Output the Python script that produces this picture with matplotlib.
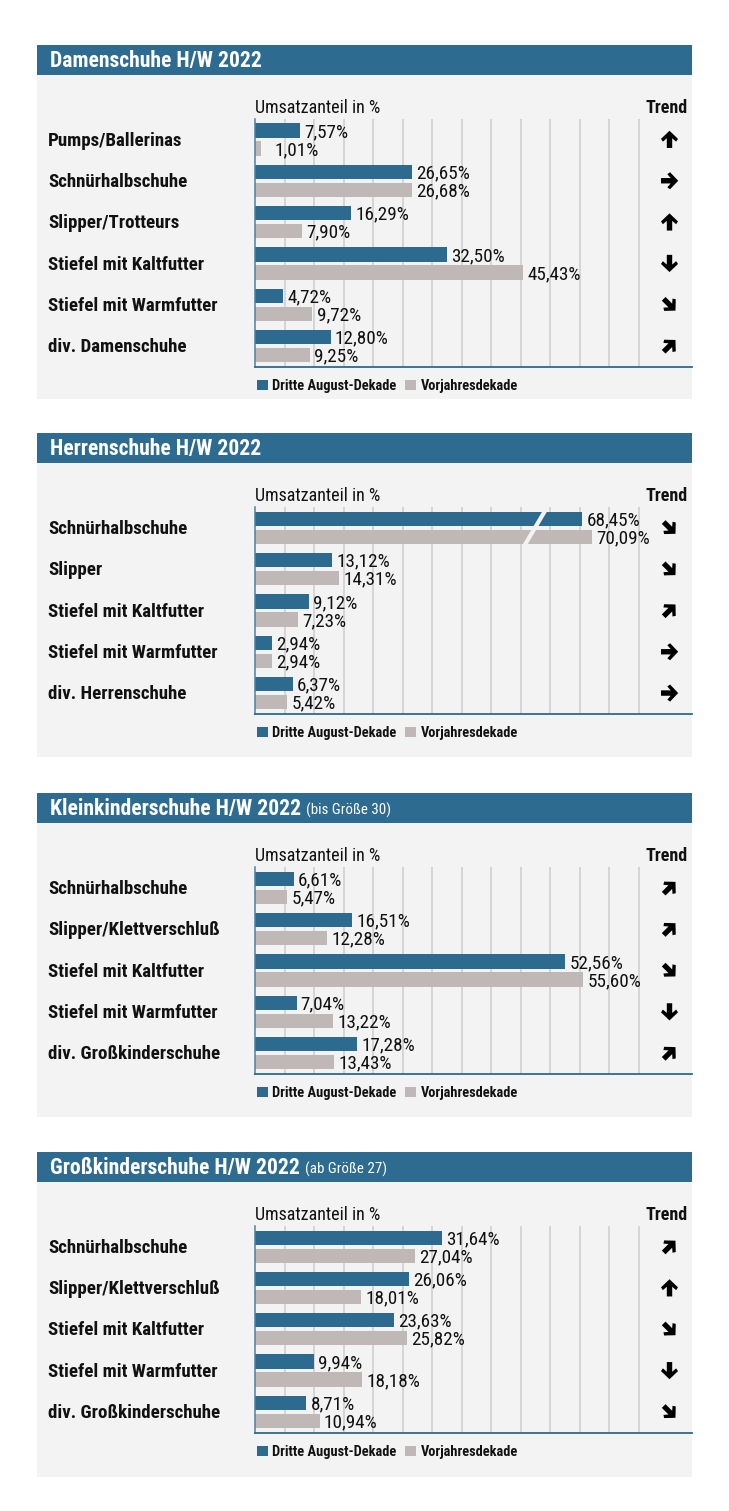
import matplotlib
matplotlib.use("Agg")
import matplotlib.pyplot as plt
from matplotlib import font_manager as fm
from matplotlib.patches import Rectangle, Polygon
from matplotlib.transforms import Affine2D, ScaledTranslation, blended_transform_factory

# ---------------- data ----------------
damen_title = "Damenschuhe H/W 2022"
damen_sub = ""
damen_cats = ["Pumps/Ballerinas", "Schnürhalbschuhe", "Slipper/Trotteurs",
              "Stiefel mit Kaltfutter", "Stiefel mit Warmfutter", "div. Damenschuhe"]
damen_aktuell = [7.57, 26.65, 16.29, 32.50, 4.72, 12.80]
damen_vorjahr = [1.01, 26.68, 7.90, 45.43, 9.72, 9.25]
damen_trend = ["up", "right", "up", "down", "downright", "upright"]

herren_title = "Herrenschuhe H/W 2022"
herren_sub = ""
herren_cats = ["Schnürhalbschuhe", "Slipper", "Stiefel mit Kaltfutter",
               "Stiefel mit Warmfutter", "div. Herrenschuhe"]
herren_aktuell = [68.45, 13.12, 9.12, 2.94, 6.37]
herren_vorjahr = [70.09, 14.31, 7.23, 2.94, 5.42]
herren_trend = ["downright", "downright", "upright", "right", "right"]

klein_title = "Kleinkinderschuhe H/W 2022"
klein_sub = "(bis Größe 30)"
klein_cats = ["Schnürhalbschuhe", "Slipper/Klettverschluß", "Stiefel mit Kaltfutter",
              "Stiefel mit Warmfutter", "div. Großkinderschuhe"]
klein_aktuell = [6.61, 16.51, 52.56, 7.04, 17.28]
klein_vorjahr = [5.47, 12.28, 55.60, 13.22, 13.43]
klein_trend = ["upright", "upright", "downright", "down", "upright"]

gross_title = "Großkinderschuhe H/W 2022"
gross_sub = "(ab Größe 27)"
gross_cats = ["Schnürhalbschuhe", "Slipper/Klettverschluß", "Stiefel mit Kaltfutter",
              "Stiefel mit Warmfutter", "div. Großkinderschuhe"]
gross_aktuell = [31.64, 26.06, 23.63, 9.94, 8.71]
gross_vorjahr = [27.04, 18.01, 25.82, 18.18, 10.94]
gross_trend = ["upright", "up", "downright", "down", "downright"]

series_labels = ["Dritte August-Dekade", "Vorjahresdekade"]
axis_label = "Umsatzanteil in %"
trend_label = "Trend"
grid_ticks = [5, 10, 15, 20, 25, 30, 35, 40, 45, 50, 55, 60, 65]


# ---------------- fonts ----------------
def pick_font():
    ents = fm.fontManager.ttflist
    names = {f.name for f in ents}
    for fam in ("Roboto Condensed", "Archivo Narrow", "PT Sans Narrow", "Liberation Sans Narrow"):
        if fam in names:
            return fam, "normal"
    for fam in ("Roboto", "DejaVu Sans"):
        if any(f.name == fam and f.stretch == "condensed" for f in ents):
            return fam, "condensed"
    return "DejaVu Sans", "normal"


FAM, STRETCH = pick_font()
plt.rcParams["font.family"] = [FAM, "DejaVu Sans"]
plt.rcParams["font.stretch"] = STRETCH

# ---------------- style ----------------
W, HPX = 729, 1511
BLUE = "#2c6a8f"
GREY = "#bfb8b6"
HEAD = "#2e6b90"
BG = "#f4f3f4"
GRID = "#cfcfcf"
INK = "#111111"

PANEL_L, PANEL_R = 37, 692
AX_L, AX_R = 255, 692
PX_PER_PCT = 5.9
PITCH = 41.3
BAR_H = 14.3
BREAK_CUT = 13.0      # amount removed from bars drawn with an axis break
BREAK_LIMIT = 60.0

FS_TITLE = 15.6
FS_SUB = 10.8
FS_CAT = 13.6
FS_AXL = 13.0
FS_VAL = 13.8
FS_LEG = 10.4

panels = [
    (damen_title, damen_sub, damen_cats, damen_aktuell, damen_vorjahr, damen_trend, 45.0, 399.0),
    (herren_title, herren_sub, herren_cats, herren_aktuell, herren_vorjahr, herren_trend, 433.4, 756.7),
    (klein_title, klein_sub, klein_cats, klein_aktuell, klein_vorjahr, klein_trend, 793.4, 1116.5),
    (gross_title, gross_sub, gross_cats, gross_aktuell, gross_vorjahr, gross_trend, 1152.2, 1476.5),
]

ANGLES = {"right": 0, "up": 90, "down": -90, "upright": 45, "downright": -45}
ARROW = [(-8.5, -2.7), (1.2, -2.7), (-2.2, -6.6), (0.6, -8.5), (8.7, 0),
         (0.6, 8.5), (-2.2, 6.6), (1.2, 2.7), (-8.5, 2.7)]

fig = plt.figure(figsize=(W / 100, HPX / 100), dpi=100)
fig.patch.set_facecolor("white")
renderer = fig.canvas.get_renderer()


def fx(x):
    return x / W


def fy(y):
    return 1 - y / HPX


def fmt(v):
    return f"{v:.2f}".replace(".", ",") + "%"


for title, sub, cats, cur, prev, trend, top, bottom in panels:
    n = len(cats)
    # background + header
    fig.add_artist(Rectangle((fx(PANEL_L), fy(bottom)), fx(PANEL_R) - fx(PANEL_L),
                             (bottom - top) / HPX, transform=fig.transFigure,
                             facecolor=BG, edgecolor="none", zorder=-10))
    fig.add_artist(Rectangle((fx(PANEL_L), fy(top + 29.5)), fx(PANEL_R) - fx(PANEL_L),
                             29.5 / HPX, transform=fig.transFigure,
                             facecolor=HEAD, edgecolor="none", zorder=-9))
    t = fig.text(fx(50), fy(top + 21.6), title, color="white", fontsize=FS_TITLE,
                 fontweight="bold", va="baseline", ha="left")
    if sub:
        bb = t.get_window_extent(renderer=renderer)
        fig.text(bb.x1 / W + fx(5), fy(top + 21.6), sub, color="white", fontsize=FS_SUB,
                 va="baseline", ha="left")

    row0 = top + 94.45
    ax_top = row0 - PITCH / 2
    ax_bot = row0 + (n - 1) * PITCH + PITCH / 2
    ax = fig.add_axes([fx(AX_L), fy(ax_bot), fx(AX_R) - fx(AX_L), (ax_bot - ax_top) / HPX])
    ax.set_facecolor("none")
    ax.set_xlim(0, (AX_R - AX_L) / PX_PER_PCT)
    ax.set_ylim(n - 0.5, -0.5)
    for s in ("top", "right"):
        ax.spines[s].set_visible(False)
    ax.spines["left"].set_color("#4f7f9f")
    ax.spines["left"].set_linewidth(1.1)
    ax.spines["bottom"].set_color(BLUE)
    ax.spines["bottom"].set_linewidth(1.3)
    ax.set_xticks(grid_ticks)
    ax.set_yticks([])
    ax.tick_params(length=0, labelbottom=False)
    ax.grid(axis="x", color=GRID, linewidth=1.2)
    ax.set_axisbelow(True)

    off = (BAR_H + 3.7) / 2 / PITCH
    h = BAR_H / PITCH
    ys = list(range(n))
    cur_w = [v - BREAK_CUT if v > BREAK_LIMIT else v for v in cur]
    prev_w = [v - BREAK_CUT if v > BREAK_LIMIT else v for v in prev]
    ax.barh([y - off for y in ys], cur_w, height=h, color=BLUE, zorder=2)
    ax.barh([y + off for y in ys], prev_w, height=h, color=GREY, zorder=2)
    for i, v in enumerate(cur):
        if v > BREAK_LIMIT:
            ax.plot([49.2, 45.7], [i - off - h / 2 - 0.03, i + off + h / 2 + 0.03],
                    color=BG, linewidth=3.0, zorder=3, solid_capstyle="butt")

    bt = blended_transform_factory(fig.transFigure, ax.transData)
    for i in ys:
        for val, w, dy in ((cur[i], cur_w[i], -off), (prev[i], prev_w[i], off)):
            ax.annotate(fmt(val), xy=(max(w, 2.6), i + dy), xytext=(3.0, -4.7),
                        textcoords="offset points", ha="left", va="baseline",
                        fontsize=FS_VAL, color=INK, zorder=4)
        # category label
        fig.text(fx(48), fy(row0 + i * PITCH + 6.2), cats[i], fontsize=FS_CAT,
                 fontweight="bold", ha="left", va="baseline", color=INK)
        # trend arrow
        sc = 0.97 if trend[i] in ("upright", "downright") else 1.0
        tr = Affine2D().rotate_deg(ANGLES[trend[i]]).scale(sc) + ScaledTranslation(fx(669.5), i, bt)
        ax.add_patch(Polygon(ARROW, closed=True, transform=tr, facecolor="black",
                             edgecolor="none", clip_on=False, zorder=5))

    fig.text(fx(AX_L), fy(top + 67.8), axis_label, fontsize=FS_AXL, ha="left",
             va="baseline", color=INK)
    fig.text(fx(688), fy(top + 67.8), trend_label, fontsize=FS_AXL, fontweight="bold",
             ha="right", va="baseline", color=INK)

    # legend
    ly = ax_bot + 18.4
    for (lx, tx), col, lab in zip(((257, 271.7), (405, 420.7)), (BLUE, GREY), series_labels):
        fig.add_artist(Rectangle((fx(lx), fy(ly + 5)), fx(11), 10 / HPX,
                                 transform=fig.transFigure, facecolor=col,
                                 edgecolor="none", zorder=2))
        fig.text(fx(tx), fy(ly + 5), lab, fontsize=FS_LEG, fontweight="bold",
                 ha="left", va="baseline", color=INK)

fig.savefig("out.png", dpi=100, facecolor="white")
